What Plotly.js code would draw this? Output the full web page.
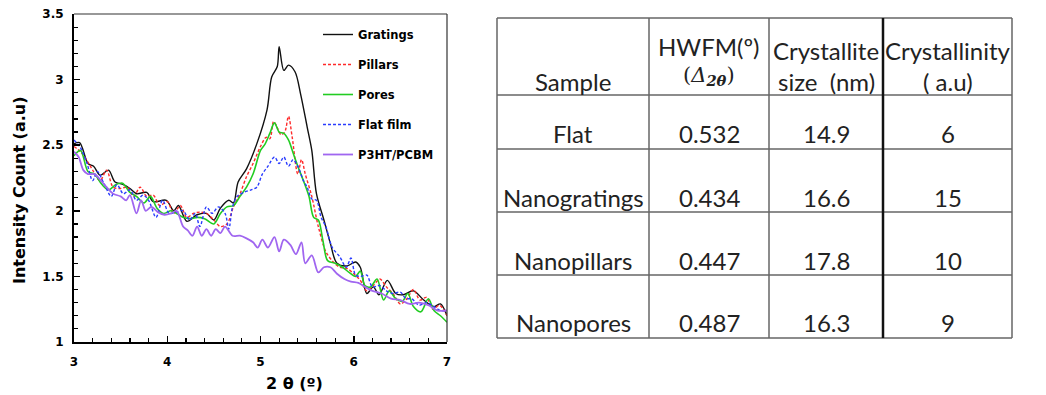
<!DOCTYPE html>
<html>
<head>
<meta charset="utf-8">
<script src="https://cdn.plot.ly/plotly-3.0.1.min.js"></script>
<style>html,body{margin:0;padding:0;background:#fff;}#chart{width:1046px;height:395px;}</style>
</head>
<body>
<div id="chart"></div>
<script>
// ---------------- XRD data ----------------
const gratingsX = [3.0,3.06,3.15,3.21,3.28,3.37,3.44,3.53,3.6,3.67,3.78,3.85,3.99,4.07,4.12,4.21,4.32,4.42,4.5,4.57,4.66,4.71,4.76,4.85,4.96,5.07,5.12,5.18,5.2,5.25,5.3,5.37,5.43,5.5,5.55,5.6,5.68,5.75,5.82,5.93,6.02,6.07,6.14,6.21,6.27,6.36,6.45,6.53,6.64,6.75,6.86,6.93,7.0];
const gratingsY = [2.51,2.52,2.36,2.34,2.27,2.31,2.22,2.20,2.17,2.13,2.14,2.07,2.08,2.00,2.04,1.92,1.97,1.98,1.93,2.02,2.08,2.06,2.22,2.32,2.51,2.77,3.02,3.10,3.25,3.07,3.11,3.06,2.89,2.64,2.46,2.13,1.93,1.75,1.60,1.58,1.61,1.57,1.37,1.42,1.36,1.47,1.37,1.36,1.39,1.32,1.27,1.29,1.20];

const pillarsX = [3.0,3.07,3.15,3.2,3.28,3.35,3.42,3.5,3.57,3.64,3.71,3.78,3.85,3.92,4.0,4.07,4.14,4.21,4.28,4.35,4.42,4.5,4.57,4.64,4.71,4.78,4.85,4.92,5.0,5.06,5.1,5.14,5.17,5.22,5.26,5.3,5.34,5.4,5.44,5.48,5.55,5.62,5.7,5.78,5.85,5.93,6.0,6.07,6.14,6.21,6.28,6.35,6.42,6.5,6.57,6.64,6.71,6.78,6.85,6.92,7.0];
const pillarsY = [2.49,2.45,2.37,2.31,2.23,2.31,2.18,2.17,2.18,2.11,2.18,2.11,2.12,2.04,2.07,1.98,2.04,1.95,1.98,1.99,1.98,1.93,1.88,1.90,2.03,2.13,2.26,2.36,2.49,2.56,2.55,2.68,2.65,2.58,2.60,2.72,2.56,2.28,2.39,2.28,2.11,1.88,1.69,1.61,1.57,1.56,1.52,1.47,1.39,1.43,1.48,1.42,1.37,1.29,1.33,1.40,1.32,1.34,1.25,1.28,1.20];

const poresX = [3.0,3.07,3.15,3.22,3.3,3.37,3.45,3.52,3.6,3.67,3.75,3.82,3.89,3.96,4.04,4.1,4.17,4.25,4.32,4.4,4.5,4.57,4.64,4.71,4.78,4.85,4.92,5.0,5.05,5.1,5.15,5.2,5.25,5.3,5.35,5.4,5.46,5.52,5.57,5.62,5.67,5.72,5.8,5.88,5.95,6.02,6.07,6.12,6.18,6.25,6.32,6.38,6.45,6.52,6.58,6.64,6.72,6.8,6.86,6.93,7.0];
const poresY = [2.42,2.46,2.30,2.28,2.20,2.16,2.20,2.21,2.14,2.11,2.06,2.11,2.02,1.98,2.00,1.98,1.95,1.94,1.95,1.94,1.90,1.98,2.03,2.04,2.11,2.18,2.28,2.46,2.51,2.59,2.67,2.60,2.59,2.54,2.44,2.34,2.23,2.11,1.95,1.93,1.77,1.62,1.60,1.57,1.53,1.50,1.54,1.43,1.42,1.48,1.32,1.39,1.33,1.31,1.37,1.27,1.23,1.33,1.24,1.20,1.15];

const flatX = [3.0,3.07,3.14,3.2,3.25,3.32,3.4,3.46,3.53,3.6,3.67,3.74,3.8,3.88,3.95,4.02,4.1,4.17,4.24,4.3,4.35,4.42,4.48,4.55,4.62,4.66,4.7,4.75,4.82,4.9,4.96,5.02,5.08,5.15,5.2,5.25,5.3,5.35,5.4,5.46,5.5,5.55,5.6,5.65,5.7,5.77,5.85,5.92,5.97,6.02,6.08,6.14,6.2,6.28,6.35,6.42,6.5,6.56,6.62,6.7,6.78,6.86,6.93,7.0];
const flatY = [2.54,2.48,2.36,2.23,2.30,2.21,2.11,2.20,2.13,2.16,2.08,2.12,2.08,1.95,2.08,1.98,1.99,2.00,1.93,1.98,1.88,2.03,1.98,2.03,1.98,1.86,2.03,2.11,2.14,2.16,2.18,2.28,2.34,2.41,2.36,2.41,2.34,2.39,2.34,2.23,2.18,2.09,2.08,1.95,1.88,1.72,1.65,1.57,1.64,1.51,1.50,1.51,1.42,1.43,1.39,1.37,1.38,1.33,1.33,1.28,1.30,1.27,1.24,1.24];

const p3htX = [3.0,3.05,3.1,3.15,3.22,3.3,3.35,3.42,3.5,3.56,3.6,3.67,3.72,3.77,3.83,3.9,3.97,4.04,4.1,4.17,4.22,4.27,4.32,4.37,4.42,4.47,4.52,4.57,4.62,4.7,4.78,4.85,4.92,4.97,5.02,5.08,5.15,5.2,5.25,5.32,5.38,5.44,5.48,5.55,5.62,5.68,5.75,5.82,5.9,5.97,6.05,6.12,6.2,6.3,6.4,6.5,6.6,6.7,6.8,6.9,7.0];
const p3htY = [2.45,2.41,2.31,2.28,2.28,2.22,2.18,2.13,2.11,2.08,2.12,1.98,2.08,2.00,2.03,1.99,1.97,1.98,2.00,1.88,1.85,1.81,1.88,1.81,1.86,1.81,1.86,1.83,1.88,1.81,1.81,1.79,1.76,1.72,1.78,1.72,1.80,1.69,1.78,1.74,1.67,1.76,1.60,1.66,1.53,1.57,1.57,1.52,1.48,1.46,1.45,1.42,1.39,1.37,1.33,1.32,1.29,1.30,1.28,1.24,1.24];

const seriesNames = ["Gratings","Pillars","Pores","Flat film","P3HT/PCBM"];

// ---------------- Table data ----------------
const tableHeaderLine1 = ["", "HWFM(º)", "Crystallite", "Crystallinity"];
const tableHeaderLine2 = ["Sample", "(<i>Δ</i><sub><b><i>2θ</i></b></sub>)", "size  (nm)", "( a.u)"];
const sampleNames = ["Flat","Nanogratings","Nanopillars","Nanopores"];
const hwfmValues = [0.532, 0.434, 0.447, 0.487];
const crystalliteSize = [14.9, 16.6, 17.8, 16.3];
const crystallinity = [6, 15, 10, 9];

// ---------------- Layout helpers ----------------
const W = 1046, H = 395;
const px = x => x / W;
const py = y => 1 - y / H;

const styles = [
  {color:"#111111", width:1.4, dash:"solid"},
  {color:"#ff2a2a", width:1.4, dash:"3px,2px"},
  {color:"#22cc22", width:1.6, dash:"solid"},
  {color:"#2a3cff", width:1.4, dash:"3px,2px"},
  {color:"#a066f0", width:1.8, dash:"solid"}
];
const xs = [gratingsX, pillarsX, poresX, flatX, p3htX];
const ys = [gratingsY, pillarsY, poresY, flatY, p3htY];

const traces = seriesNames.map((n,i) => ({
  type:"scatter", mode:"lines", name:n, x:xs[i], y:ys[i],
  legendgroup:"g"+i,
  line:{color:styles[i].color, width:styles[i].width, dash:styles[i].dash, shape:"spline", smoothing:0.9}
}));

const plotL = 74, plotR = 447, plotT = 14, plotB = 342;
const chartFont = {family:"DejaVu Sans", size:12, color:"#000", weight:"bold"};

const shapes = [
  {type:"line", xref:"paper", yref:"paper", x0:px(plotL), x1:px(plotR), y0:py(plotT), y1:py(plotT), line:{color:"#333", width:1.2}},
  {type:"line", xref:"paper", yref:"paper", x0:px(plotR), x1:px(plotR), y0:py(plotT), y1:py(plotB), line:{color:"#333", width:1.2}}
];
const annotations = [
  {xref:"paper", yref:"paper", x:px(19), y:py(190), text:"Intensity Count (a.u)", textangle:-90, showarrow:false,
   font:{family:"DejaVu Sans", size:16, color:"#000", weight:"bold"}, xanchor:"center", yanchor:"middle"},
  {xref:"paper", yref:"paper", x:px(294), y:py(383), text:"2 θ (º)", showarrow:false,
   font:{family:"DejaVu Sans", size:16, color:"#000", weight:"bold"}, xanchor:"center", yanchor:"middle"}
];

// Table geometry
const colEdges = [497, 649, 769, 883, 1012];
const rowEdges = [18, 95, 149, 212, 275, 338];
rowEdges.forEach(y => shapes.push({type:"line", xref:"paper", yref:"paper", x0:px(colEdges[0]), x1:px(colEdges[4]), y0:py(y), y1:py(y), line:{color:"#666", width:1.5}}));
colEdges.forEach((x,i) => shapes.push({type:"line", xref:"paper", yref:"paper", x0:px(x), x1:px(x), y0:py(rowEdges[0]), y1:py(rowEdges[5]),
  line:{color: i===3 ? "#111" : "#666", width: i===3 ? 2.5 : 1.5}}));

const tFont = {family:"Lato", size:24, color:"#222"};
const colCenters = colEdges.slice(0,4).map((x,i) => (x + colEdges[i+1]) / 2);
// Header
const line1Y = [50, 47, 50, 50];
tableHeaderLine1.forEach((h,i) => { if (h) annotations.push({xref:"paper", yref:"paper", x:px(colCenters[i]), y:py(line1Y[i]), text:h, showarrow:false,
  xanchor:"center", yanchor:"middle", font:tFont}); });
const line2Y = [81, 76, 81, 81];
tableHeaderLine2.forEach((h,i) => annotations.push({xref:"paper", yref:"paper", x:px(colCenters[i]), y:py(line2Y[i]), text:h, showarrow:false,
  xanchor:"center", yanchor:"middle", font: i===1 ? {family:"DejaVu Serif", size:21, color:"#222"} : tFont}));
// Body
const rowTextY = [133, 197, 260, 322];
sampleNames.forEach((s,r) => {
  const cells = [s, hwfmValues[r].toFixed(3), crystalliteSize[r].toFixed(1), String(crystallinity[r])];
  cells.forEach((c,i) => annotations.push({xref:"paper", yref:"paper", x:px(colCenters[i]), y:py(rowTextY[r]), text:c, showarrow:false,
    xanchor:"center", yanchor:"middle", font:tFont}));
});

const layout = {
  width:W, height:H, margin:{l:0,r:0,t:0,b:0}, paper_bgcolor:"#fff", plot_bgcolor:"#fff",
  showlegend:true,
  legend:{x:px(318), y:py(20), xanchor:"left", yanchor:"top", bgcolor:"rgba(0,0,0,0)", borderwidth:0,
    font:{family:"DejaVu Sans", size:11.5, color:"#000", weight:"bold"}, tracegroupgap:11, traceorder:"grouped"},
  xaxis:{domain:[px(plotL), px(plotR)], range:[3,7], dtick:1, tick0:3, showgrid:false, zeroline:false,
    showline:true, linecolor:"#000", linewidth:2, ticks:"inside", ticklen:6, tickwidth:1.5, tickcolor:"#000",
    minor:{dtick:0.2, ticks:"inside", ticklen:4, tickwidth:1.2, tickcolor:"#000"},
    tickfont:chartFont, ticklabelstandoff:8, fixedrange:true},
  yaxis:{domain:[py(plotB), py(plotT)], range:[1,3.5], dtick:0.5, tick0:1, showgrid:false, zeroline:false,
    showline:true, linecolor:"#000", linewidth:2, ticks:"inside", ticklen:6, tickwidth:1.5, tickcolor:"#000",
    minor:{dtick:0.1, ticks:"inside", ticklen:4, tickwidth:1.2, tickcolor:"#000"},
    tickfont:chartFont, ticklabelstandoff:6, fixedrange:true},
  shapes:shapes, annotations:annotations
};

Plotly.newPlot("chart", traces, layout, {displayModeBar:false, staticPlot:true});
</script>
</body>
</html>
